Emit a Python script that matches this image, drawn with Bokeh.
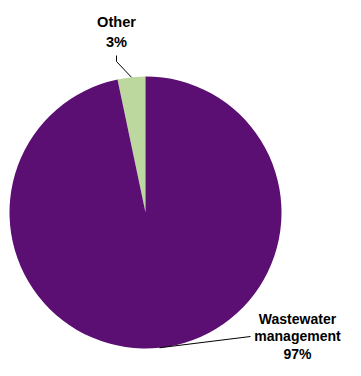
import math
from bokeh.plotting import figure
from bokeh.models import Range1d
from bokeh.core.properties import value
from bokeh.embed import file_html
from bokeh.resources import INLINE

categories = ["Other", "Wastewater management"]
shares = [3.3, 96.7]
label_lines = [["Other", "3%"], ["Wastewater", "management", "97%"]]
colors = ["#BDD89F", "#5C0F73"]

W, H = 345, 360
p = figure(width=W, height=H, output_backend="svg", toolbar_location=None,
           x_range=Range1d(0, W), y_range=Range1d(376 - H, 376),
           min_border=0)
p.axis.visible = False
p.grid.visible = False
p.outline_line_color = None
p.background_fill_color = "white"
p.border_fill_color = "white"

cx, cy, r = 145, 376 - 212, 136
total = sum(shares)
start = math.pi / 2
mids = []
for s, c in zip(shares, colors):
    end = start + s / total * 2 * math.pi
    p.wedge(x=cx, y=cy, radius=r, start_angle=start, end_angle=end,
            fill_color=c, line_color=None)
    mids.append((start + end) / 2)
    start = end

font = value("Liberation Sans")
# Other label with leader line
a = mids[0]
x0, y0 = cx + r * math.cos(a), cy + r * math.sin(a)
p.line(x=[x0, 116, 116], y=[y0, 376 - 61, 376 - 55], line_color="black", line_width=1)
for i, t in enumerate(label_lines[0]):
    p.text(x=[116], y=[376 - 21 - 20 * i], text=[t], text_font=font,
           text_font_size="14.6px", text_font_style="bold", text_align="center",
           text_baseline="middle", text_color="black")

# Wastewater label (kept inside the canvas)
a = mids[1]
x0, y0 = cx + r * math.cos(a), cy + r * math.sin(a)
p.line(x=[x0, 250], y=[y0, 376 - 336], line_color="black", line_width=1)
for i, t in enumerate(label_lines[1]):
    p.text(x=[297], y=[376 - 318 - 17.5 * i], text=[t], text_font=font,
           text_font_size="14px", text_font_style="bold", text_align="center",
           text_baseline="middle", text_color="black")

open("out.html", "w").write(file_html(p, INLINE))
